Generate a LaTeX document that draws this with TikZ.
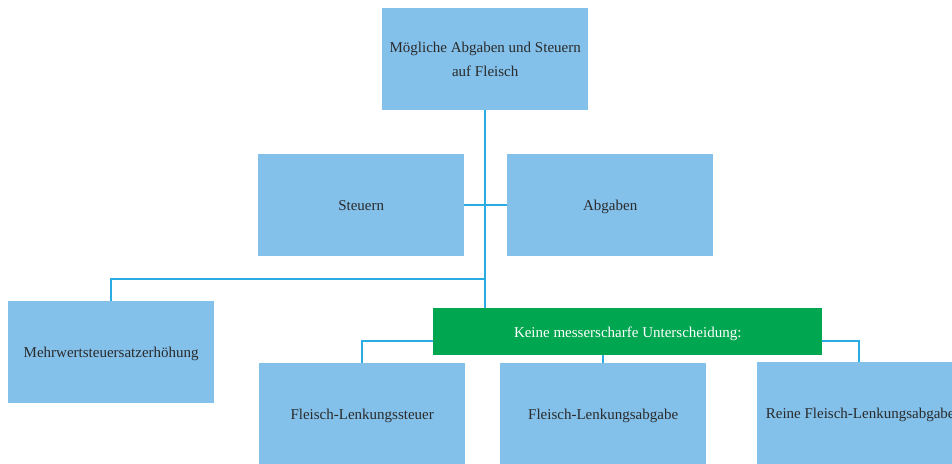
\documentclass[tikz,border=0pt]{standalone}
\usepackage{fontspec}
\setmainfont{Liberation Serif}
\definecolor{boxblue}{HTML}{83C0EA}
\definecolor{boxgreen}{HTML}{00A650}
\definecolor{linkblue}{HTML}{2AACE2}
\definecolor{txt}{HTML}{2B2B2B}
\begin{document}
\begin{tikzpicture}[x=1pt,y=-1pt,
  bluebox/.style={fill=boxblue,draw=none,minimum width=206pt,minimum height=102pt,inner sep=0pt,anchor=north west,text=txt,font=\fontsize{15}{24}\selectfont,align=center},
  greenbox/.style={fill=boxgreen,draw=none,minimum width=389pt,minimum height=47pt,inner sep=0pt,anchor=north west,text=white,font=\fontsize{15}{24}\selectfont,text height=12pt,text depth=1pt},
  onebox/.style={bluebox,text height=12pt,text depth=1pt},
  link/.style={draw=linkblue,line width=2.2pt}]
\useasboundingbox (0,0) rectangle (952,463);
\clip (0,0) rectangle (952,463);
\coordinate (j1) at (485,279);
\node[bluebox] (top) at (382,8) {Mögliche Abgaben und Steuern\\auf Fleisch};
\node[onebox] (st) at (258,154) {Steuern};
\node[onebox] (ab) at (507,154) {Abgaben};
\node[onebox] (mw) at (8,301) {Mehrwertsteuersatzerhöhung};
\node[greenbox] (gr) at (433,308) {Keine messerscharfe Unterscheidung:};
\node[onebox] (fls) at (259,363) {Fleisch-Lenkungssteuer};
\node[onebox] (fla) at (500,363) {Fleisch-Lenkungsabgabe};
\node[onebox] (rfla) at (757,362) {Reine Fleisch-Lenkungsabgabe};
\draw[link] (top.south) -- (gr.north -| top.south);
\draw[link] (st.east) -- (ab.west);
\draw[link] (j1) -- (111,279) -- (mw.north -| 111,0);
\draw[link] (gr.west |- 0,341) -- (362,341) -- (fls.north -| 362,0);
\draw[link] (gr.south -| 603,0) -- (fla.north -| 603,0);
\draw[link] (gr.east |- 0,341) -- (859,341) -- (rfla.north -| 859,0);
\end{tikzpicture}
\end{document}
